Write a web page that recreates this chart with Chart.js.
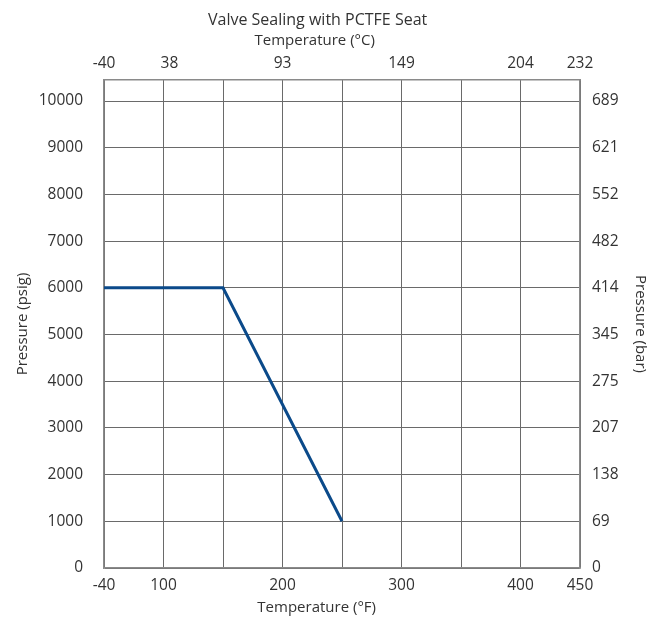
<!DOCTYPE html>
<html>
<head>
<meta charset="utf-8">
<script src="https://cdn.jsdelivr.net/npm/chart.js@4.4.0/dist/chart.umd.min.js"></script>
<style>
  html, body { margin: 0; padding: 0; background: #fff; }
  canvas { display: block; }
</style>
</head>
<body>
<canvas id="c" width="656" height="617"></canvas>
<script>
// Series: pressure rating (psig) vs temperature (°F, axis position)
const tempF = [50, 150, 250];
const pressurePsig = [6000, 6000, 1000];

// Bottom axis (°F)
const bottomTickValues = [50, 100, 150, 200, 250, 300, 350, 400, 450];
const bottomTickLabels = ['-40', '100', '', '200', '', '300', '', '400', '450'];

// Top axis (°C)
const topTickValues = [50, 105, 200, 300, 400, 450];
const topTickLabels = ['-40', '38', '93', '149', '204', '232'];

// Left axis (psig) and right axis (bar)
const psigTickValues = [0, 1000, 2000, 3000, 4000, 5000, 6000, 7000, 8000, 9000, 10000];
const psigTickLabels = ['0', '1000', '2000', '3000', '4000', '5000', '6000', '7000', '8000', '9000', '10000'];
const barTickLabels = ['0', '69', '138', '207', '275', '345', '414', '482', '552', '621', '689'];

const FONT = "'Open Sans', 'Noto Sans', sans-serif";
const TEXT = '#333';
const GRID = '#6a6a6a';
const BORDER = '#8a8a8a';
const NB = n => '\u00A0'.repeat(n);

Chart.defaults.font.family = FONT;
Chart.defaults.color = TEXT;

function setTicks(values) {
  return scale => { scale.ticks = values.map(v => ({ value: v })); };
}
function labelFrom(values, labels) {
  return (v) => { const i = values.indexOf(v); return i >= 0 ? labels[i] : ''; };
}

const TICK_FONT = { size: 15.5 };
const AXIS_TITLE_FONT = { size: 15, lineHeight: 1.2 };

new Chart(document.getElementById('c'), {
  type: 'line',
  data: {
    datasets: [{
      data: tempF.map((x, i) => ({ x, y: pressurePsig[i] })),
      borderColor: '#0b4a8a',
      borderWidth: 3,
      pointRadius: 0,
      tension: 0,
      fill: false,
      xAxisID: 'x',
      yAxisID: 'y'
    }]
  },
  options: {
    responsive: false,
    devicePixelRatio: 1,
    animation: false,
    layout: { padding: 0 },
    plugins: {
      legend: { display: false },
      tooltip: { enabled: false },
      title: {
        display: true,
        text: 'Valve Sealing with PCTFE Seat' + NB(5),
        color: TEXT,
        font: { size: 16, weight: 'normal', family: FONT, lineHeight: 1.2 },
        padding: { top: 11, bottom: 0 }
      }
    },
    scales: {
      x: {
        type: 'linear', position: 'bottom', min: 50, max: 450,
        afterBuildTicks: setTicks(bottomTickValues),
        afterFit: s => { s.height = 49; },
        grid: { color: GRID, lineWidth: 1, drawTicks: false },
        border: { display: true, color: BORDER, width: 1.5 },
        ticks: { padding: 8.5, maxRotation: 0, autoSkip: false, font: TICK_FONT, color: TEXT,
                 callback: labelFrom(bottomTickValues, bottomTickLabels) },
        title: { display: true, text: 'Temperature (°F)' + NB(13), font: AXIS_TITLE_FONT, color: TEXT, padding: { top: 0, bottom: 0 } }
      },
      x2: {
        type: 'linear', position: 'top', min: 50, max: 450,
        afterBuildTicks: setTicks(topTickValues),
        afterFit: s => { s.height = 80 - 30.2; },
        grid: { display: false, drawTicks: false },
        border: { display: true, color: BORDER, width: 1.5 },
        ticks: { padding: 7, maxRotation: 0, autoSkip: false, font: TICK_FONT, color: TEXT,
                 callback: labelFrom(topTickValues, topTickLabels) },
        title: { display: true, text: 'Temperature (°C)' + NB(14), font: AXIS_TITLE_FONT, color: TEXT, padding: { top: 2, bottom: 0 } }
      },
      y: {
        type: 'linear', position: 'left', min: 0, max: 10450,
        afterBuildTicks: setTicks(psigTickValues),
        afterFit: s => { s.width = 104; },
        grid: { color: GRID, lineWidth: 1, drawTicks: false },
        border: { display: true, color: BORDER, width: 1.5 },
        ticks: { padding: 21, autoSkip: false, font: TICK_FONT, color: TEXT,
                 callback: labelFrom(psigTickValues, psigTickLabels) },
        title: { display: true, text: 'Pressure (psig)', font: AXIS_TITLE_FONT, color: TEXT, padding: { top: 13.5, bottom: 0 } }
      },
      y2: {
        type: 'linear', position: 'right', min: 0, max: 10450,
        afterBuildTicks: setTicks(psigTickValues),
        afterFit: s => { s.width = 76; },
        grid: { display: false, drawTicks: false },
        border: { display: true, color: BORDER, width: 1.5 },
        ticks: { padding: 12, autoSkip: false, font: TICK_FONT, color: TEXT,
                 callback: labelFrom(psigTickValues, barTickLabels) },
        title: { display: true, text: 'Pressure (bar)', font: AXIS_TITLE_FONT, color: TEXT, padding: { top: 7, bottom: 0 } }
      }
    }
  }
});
</script>
</body>
</html>
